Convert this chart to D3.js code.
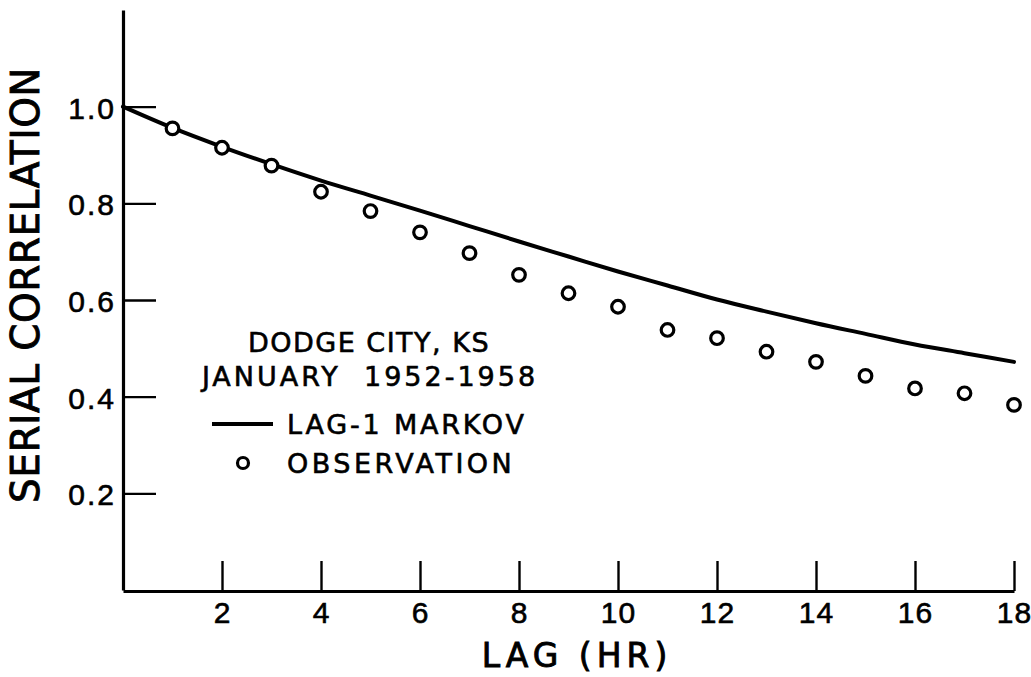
<!DOCTYPE html>
<html>
<head>
<meta charset="utf-8">
<script src="https://cdn.jsdelivr.net/npm/d3@7"></script>
<style>
  html, body { margin: 0; padding: 0; background: #fff; }
  svg { display: block; font-family: "DejaVu Sans", sans-serif; }
</style>
</head>
<body>
<svg id="chart" width="1031" height="677"></svg>
<script>
// ---- data ----
const lagsMarkov = [0, 1, 2, 3, 4, 5, 6, 7, 8, 9, 10, 11, 12, 13, 14, 15, 16, 17, 18];
const markovValues = [1.0, 0.956, 0.917, 0.881, 0.847, 0.816, 0.785, 0.753, 0.721, 0.690, 0.659, 0.630, 0.601, 0.576, 0.552, 0.530, 0.508, 0.490, 0.472];
const lagsObs = [1, 2, 3, 4, 5, 6, 7, 8, 9, 10, 11, 12, 13, 14, 15, 16, 17, 18];
const obsValues = [0.955, 0.915, 0.878, 0.824, 0.784, 0.740, 0.697, 0.652, 0.614, 0.586, 0.538, 0.521, 0.493, 0.472, 0.443, 0.417, 0.407, 0.383];
const xTicks = [2, 4, 6, 8, 10, 12, 14, 16, 18];
const yTicks = [0.2, 0.4, 0.6, 0.8, 1.0];
const yTickLabels = ["0.2", "0.4", "0.6", "0.8", "1.0"];
const legendTitle = ["DODGE CITY, KS", "JANUARY  1952-1958"];
const seriesNames = ["LAG-1 MARKOV", "OBSERVATION"];
const xTitle = "LAG (HR)";
const yTitle = "SERIAL CORRELATION";

// ---- layout ----
const svg = d3.select("#chart");
const x = d3.scaleLinear().domain([0, 18]).range([123, 1014]);
const y = d3.scaleLinear().domain([0, 1.2]).range([590, 10]);

// y axis
const yAxis = d3.axisLeft(y)
  .tickValues(yTicks)
  .tickFormat((d, i) => yTickLabels[i])
  .tickSizeInner(-33)
  .tickSizeOuter(0)
  .tickPadding(7);
const gy = svg.append("g").attr("transform", `translate(${x(0)},0)`).call(yAxis);
gy.select(".domain").attr("stroke", "#000").attr("stroke-width", 3.2);
gy.selectAll(".tick line").attr("stroke", "#000").attr("stroke-width", 2.4);
gy.selectAll(".tick text")
  .attr("fill", "#000")
  .attr("font-size", 30)
  .attr("letter-spacing", 2)
  .attr("stroke", "#000").attr("stroke-width", 0.6)
  .attr("dy", "0.38em");

// x axis
const xAxis = d3.axisBottom(x)
  .tickValues(xTicks)
  .tickFormat(d3.format("d"))
  .tickSizeInner(-30)
  .tickSizeOuter(0)
  .tickPadding(11);
const gx = svg.append("g").attr("transform", `translate(0,${y(0) + 1})`).call(xAxis);
gx.select(".domain").attr("stroke", "#000").attr("stroke-width", 3.2);
gx.selectAll(".tick line").attr("stroke", "#000").attr("stroke-width", 2.4);
gx.selectAll(".tick text")
  .attr("fill", "#000")
  .attr("font-size", 30)
  .attr("letter-spacing", 1)
  .attr("stroke", "#000").attr("stroke-width", 0.6);

// axis titles
svg.append("text")
  .attr("x", 577).attr("y", 667)
  .attr("text-anchor", "middle")
  .attr("font-size", 33)
  .attr("letter-spacing", 5)
  .attr("stroke", "#000").attr("stroke-width", 0.9)
  .text(xTitle);

svg.append("text")
  .attr("transform", "translate(39,285) rotate(-90)")
  .attr("text-anchor", "middle")
  .attr("font-size", 39)
  .attr("letter-spacing", 0.5)
  .attr("stroke", "#000").attr("stroke-width", 0.9)
  .text(yTitle);

// markov curve
const line = d3.line()
  .x((d, i) => x(lagsMarkov[i]))
  .y(d => y(d))
  .curve(d3.curveMonotoneX);
svg.append("path")
  .datum(markovValues)
  .attr("d", line)
  .attr("fill", "none")
  .attr("stroke", "#000")
  .attr("stroke-width", 4)
  .attr("stroke-linecap", "round");

// observations
svg.append("g").selectAll("circle")
  .data(obsValues)
  .join("circle")
  .attr("cx", (d, i) => x(lagsObs[i]))
  .attr("cy", d => y(d))
  .attr("r", 6.3)
  .attr("fill", "#fff")
  .attr("stroke", "#000")
  .attr("stroke-width", 3.2);

// legend
const lg = svg.append("g").attr("stroke", "#000").attr("stroke-width", 0.6);
lg.append("text").attr("x", 369).attr("y", 352)
  .attr("text-anchor", "middle").attr("font-size", 27).attr("letter-spacing", 1.5)
  .text(legendTitle[0]);
lg.append("text").attr("x", 370).attr("y", 386)
  .attr("text-anchor", "middle").attr("font-size", 27).attr("letter-spacing", 3)
  .attr("xml:space", "preserve").style("white-space", "pre")
  .text(legendTitle[1]);
lg.append("line")
  .attr("x1", 212).attr("x2", 273).attr("y1", 424).attr("y2", 424)
  .attr("stroke", "#000").attr("stroke-width", 4);
lg.append("text").attr("x", 287).attr("y", 434)
  .attr("font-size", 27).attr("letter-spacing", 2.8)
  .text(seriesNames[0]);
lg.append("circle").attr("cx", 243).attr("cy", 463).attr("r", 5.5)
  .attr("fill", "#fff").attr("stroke", "#000").attr("stroke-width", 3.2);
lg.append("text").attr("x", 287).attr("y", 473)
  .attr("font-size", 27).attr("letter-spacing", 3.5)
  .text(seriesNames[1]);
</script>
</body>
</html>
